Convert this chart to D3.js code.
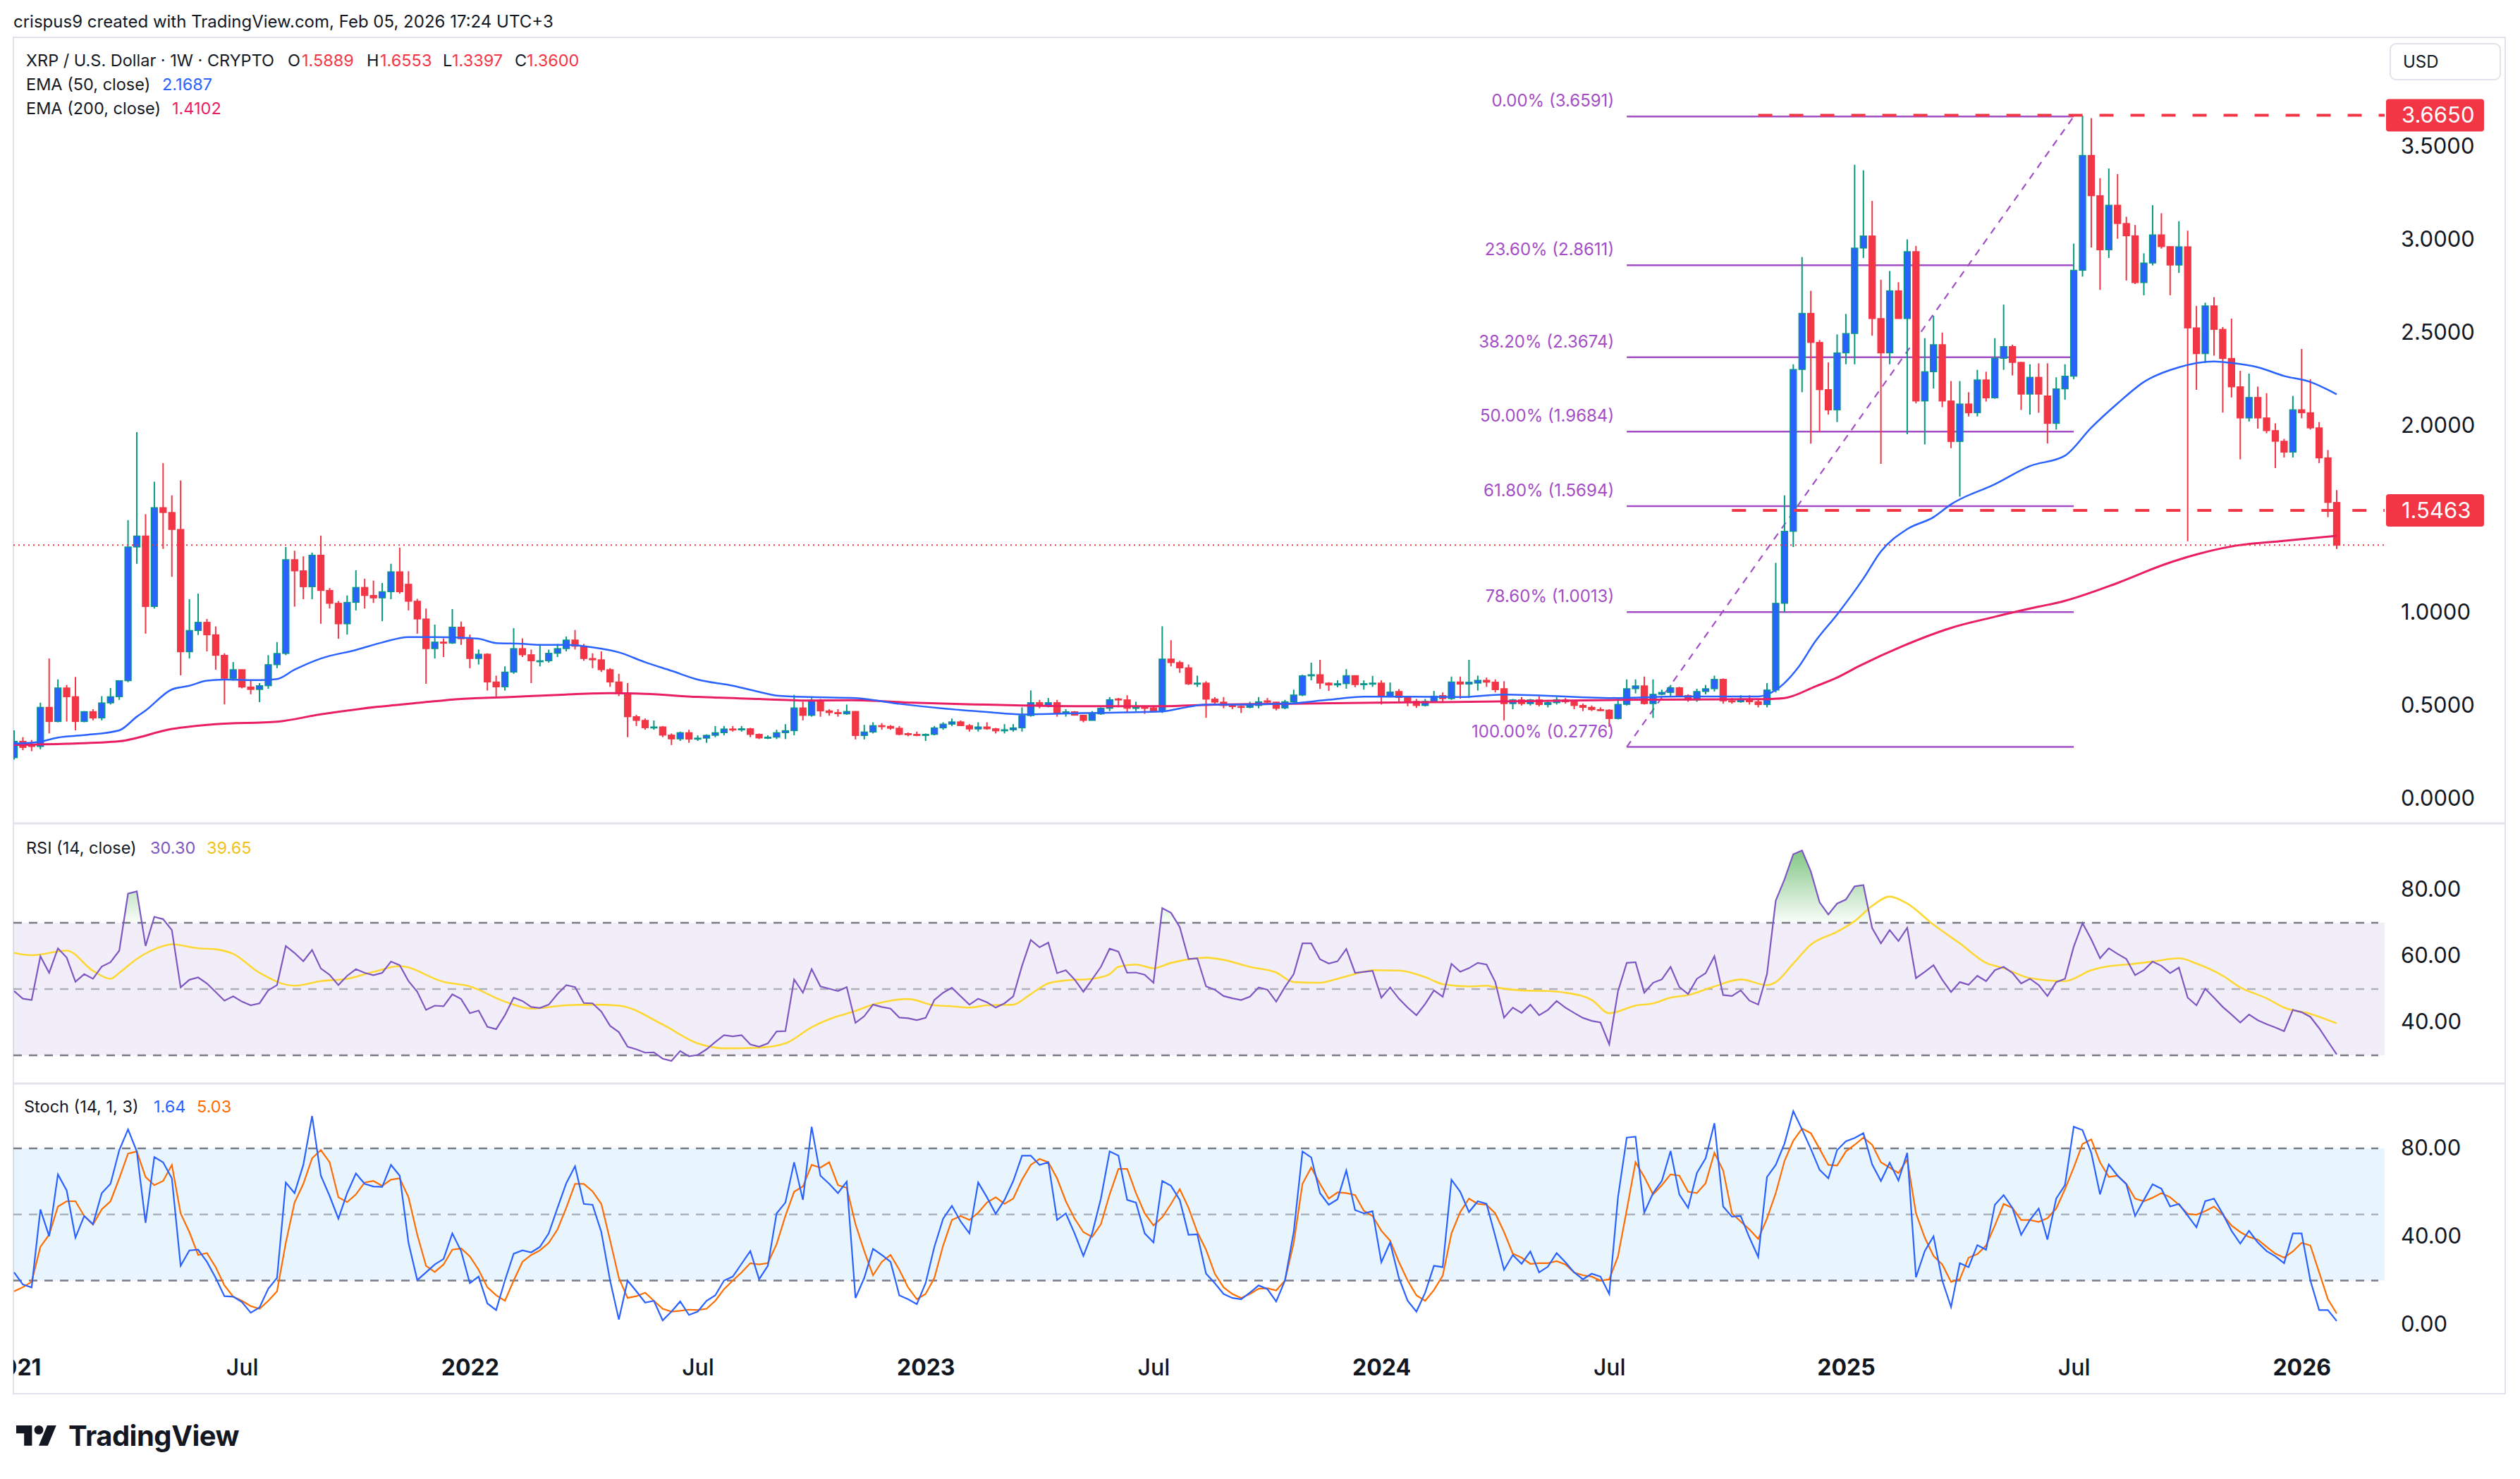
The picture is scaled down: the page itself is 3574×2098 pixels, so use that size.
<!DOCTYPE html>
<html><head><meta charset="utf-8">
<script src="https://cdn.jsdelivr.net/npm/d3@7/dist/d3.min.js"></script>
<style>html,body{margin:0;padding:0;background:#fff;}svg{display:block;}</style>
</head><body>
<svg id="c" width="3574" height="2098"></svg>
<script>
// ---------------- DATA (weekly bars, first bar = week of 2021-01-04) ----------------
const firstWeek = "2021-01-04";
const open = [0.220,0.308,0.290,0.280,0.490,0.414,0.594,0.547,0.414,0.467,
0.433,0.514,0.547,0.633,1.350,1.409,1.031,1.561,1.535,1.444,
0.788,0.902,0.946,0.879,0.769,0.646,0.692,0.599,0.586,0.606,
0.719,0.779,1.282,1.222,1.137,1.306,1.117,1.048,0.938,1.053,
1.133,1.090,1.077,1.110,1.217,1.150,1.059,0.964,0.805,0.840,
0.835,0.920,0.858,0.752,0.775,0.626,0.600,0.679,0.805,0.772,
0.740,0.740,0.780,0.805,0.851,0.818,0.752,0.745,0.692,0.626,
0.567,0.440,0.420,0.381,0.385,0.341,0.321,0.354,0.320,0.325,
0.340,0.354,0.374,0.372,0.375,0.345,0.326,0.330,0.354,0.365,
0.487,0.447,0.528,0.471,0.462,0.455,0.468,0.339,0.358,0.392,
0.388,0.378,0.349,0.345,0.342,0.345,0.380,0.400,0.412,0.392,
0.374,0.385,0.375,0.364,0.370,0.380,0.446,0.515,0.497,0.515,
0.459,0.466,0.448,0.420,0.455,0.485,0.535,0.530,0.485,0.490,
0.487,0.470,0.749,0.730,0.702,0.616,0.620,0.534,0.518,0.500,
0.495,0.490,0.500,0.525,0.518,0.487,0.520,0.556,0.659,0.665,
0.620,0.610,0.617,0.660,0.612,0.617,0.620,0.547,0.575,0.543,
0.522,0.500,0.520,0.553,0.537,0.626,0.615,0.620,0.635,0.625,
0.590,0.510,0.530,0.510,0.530,0.505,0.515,0.530,0.520,0.500,
0.490,0.478,0.475,0.430,0.506,0.590,0.605,0.510,0.560,0.570,
0.595,0.553,0.530,0.575,0.590,0.640,0.525,0.520,0.535,0.520,
0.505,0.583,1.048,1.434,2.302,2.603,2.447,2.194,2.085,2.391,
2.495,2.953,3.018,2.575,2.391,2.724,2.575,2.934,2.133,2.290,
2.435,2.133,1.916,2.117,2.070,2.246,2.150,2.362,2.425,2.340,
2.170,2.260,2.160,2.013,2.198,2.266,2.834,3.450,3.234,2.944,
3.183,3.085,3.019,2.768,2.873,3.024,2.961,2.862,2.960,2.525,
2.387,2.643,2.517,2.361,2.209,2.042,2.152,2.042,1.974,1.917,
1.859,2.086,2.070,1.989,1.828,1.5889];
const high = [0.367,0.330,0.315,0.515,0.752,0.640,0.610,0.653,0.470,0.480,
0.550,0.594,0.633,1.494,1.966,1.526,1.700,1.800,1.627,1.707,
1.070,1.100,0.964,0.924,0.780,0.733,0.692,0.639,0.620,0.770,
0.840,1.350,1.330,1.300,1.320,1.411,1.130,1.060,1.090,1.225,
1.180,1.170,1.157,1.260,1.346,1.220,1.072,1.020,0.934,0.860,
1.017,0.950,0.880,0.800,0.780,0.660,0.710,0.915,0.860,0.800,
0.820,0.800,0.830,0.870,0.905,0.830,0.780,0.790,0.700,0.670,
0.620,0.450,0.430,0.420,0.390,0.350,0.360,0.370,0.340,0.345,
0.390,0.390,0.390,0.390,0.380,0.350,0.340,0.370,0.400,0.557,
0.520,0.540,0.535,0.480,0.480,0.505,0.470,0.396,0.410,0.405,
0.395,0.390,0.355,0.360,0.350,0.390,0.410,0.430,0.420,0.400,
0.410,0.410,0.380,0.400,0.400,0.490,0.581,0.530,0.540,0.530,
0.480,0.470,0.450,0.470,0.490,0.545,0.541,0.555,0.520,0.500,
0.500,0.925,0.850,0.740,0.720,0.660,0.630,0.545,0.545,0.510,
0.500,0.520,0.545,0.540,0.520,0.530,0.585,0.665,0.730,0.745,
0.625,0.635,0.695,0.660,0.635,0.659,0.635,0.623,0.588,0.550,
0.535,0.535,0.578,0.570,0.655,0.655,0.745,0.660,0.650,0.640,
0.630,0.535,0.545,0.535,0.550,0.530,0.545,0.540,0.530,0.510,
0.500,0.490,0.480,0.530,0.640,0.640,0.655,0.640,0.585,0.610,
0.600,0.560,0.590,0.610,0.660,0.645,0.540,0.555,0.555,0.530,
0.620,1.265,1.627,2.330,2.905,2.724,2.460,2.340,2.490,2.600,
3.400,3.370,3.206,2.784,2.830,2.770,3.000,2.965,2.470,2.590,
2.500,2.240,2.240,2.180,2.300,2.290,2.470,2.650,2.435,2.343,
2.330,2.335,2.335,2.260,2.330,2.977,3.663,3.650,3.328,3.380,
3.350,3.121,3.077,2.925,3.183,3.140,2.961,3.097,3.046,2.643,
2.660,2.690,2.530,2.575,2.295,2.280,2.210,2.175,2.013,1.930,
2.160,2.412,2.250,2.020,1.870,1.6553];
const low = [0.210,0.260,0.255,0.265,0.350,0.410,0.414,0.367,0.410,0.420,
0.420,0.505,0.530,0.625,1.260,0.885,1.020,1.340,1.190,0.662,
0.752,0.878,0.790,0.692,0.506,0.633,0.592,0.560,0.518,0.590,
0.700,0.770,1.030,1.070,1.070,0.938,1.020,0.858,0.880,1.010,
1.020,1.050,0.952,1.070,1.100,1.010,0.885,0.616,0.752,0.760,
0.830,0.825,0.700,0.720,0.580,0.549,0.580,0.670,0.760,0.620,
0.710,0.730,0.760,0.790,0.800,0.740,0.700,0.680,0.600,0.550,
0.330,0.390,0.370,0.370,0.330,0.288,0.310,0.300,0.310,0.300,
0.330,0.340,0.360,0.360,0.330,0.320,0.320,0.320,0.320,0.340,
0.420,0.440,0.440,0.445,0.440,0.450,0.318,0.318,0.350,0.370,
0.370,0.340,0.335,0.335,0.310,0.340,0.370,0.390,0.390,0.360,
0.360,0.370,0.350,0.350,0.360,0.360,0.440,0.485,0.490,0.440,
0.440,0.450,0.410,0.420,0.450,0.470,0.490,0.465,0.470,0.455,
0.465,0.460,0.710,0.675,0.610,0.600,0.434,0.510,0.485,0.480,
0.460,0.485,0.485,0.510,0.474,0.480,0.515,0.550,0.635,0.589,
0.578,0.598,0.590,0.598,0.585,0.600,0.505,0.543,0.520,0.496,
0.487,0.495,0.515,0.520,0.530,0.537,0.540,0.580,0.600,0.570,
0.420,0.480,0.500,0.500,0.495,0.490,0.505,0.510,0.480,0.470,
0.470,0.470,0.385,0.425,0.500,0.565,0.505,0.433,0.555,0.550,
0.545,0.520,0.520,0.560,0.575,0.510,0.510,0.515,0.505,0.490,
0.490,0.570,1.000,1.350,2.180,1.904,1.967,2.060,2.020,2.330,
2.330,2.900,2.483,1.796,2.330,2.620,1.955,2.120,1.900,2.200,
2.100,1.880,1.620,2.050,2.050,2.130,2.145,2.300,2.270,2.085,
2.060,2.070,1.905,1.980,2.140,2.250,2.800,2.956,2.729,2.900,
3.003,2.779,2.760,2.700,2.860,2.950,2.700,2.820,1.381,2.193,
2.337,2.376,2.071,2.152,1.820,2.023,1.985,1.960,1.773,1.830,
1.830,2.040,1.980,1.800,1.510,1.3397];
const close = [0.308,0.275,0.280,0.490,0.414,0.594,0.547,0.414,0.467,0.433,
0.514,0.547,0.633,1.350,1.409,1.031,1.561,1.535,1.444,0.788,
0.902,0.946,0.879,0.769,0.646,0.692,0.599,0.586,0.606,0.719,
0.779,1.282,1.222,1.137,1.306,1.117,1.048,0.938,1.053,1.133,
1.090,1.077,1.110,1.217,1.110,1.059,0.964,0.805,0.840,0.835,
0.920,0.858,0.752,0.775,0.626,0.600,0.679,0.805,0.772,0.740,
0.740,0.780,0.805,0.851,0.818,0.752,0.745,0.692,0.626,0.567,
0.440,0.420,0.381,0.385,0.341,0.321,0.354,0.320,0.325,0.340,
0.354,0.374,0.372,0.375,0.345,0.326,0.330,0.354,0.365,0.487,
0.447,0.528,0.471,0.462,0.458,0.468,0.339,0.358,0.392,0.388,
0.378,0.345,0.345,0.342,0.345,0.380,0.400,0.412,0.392,0.374,
0.385,0.375,0.364,0.370,0.380,0.446,0.515,0.497,0.515,0.459,
0.466,0.448,0.420,0.455,0.485,0.531,0.530,0.485,0.490,0.487,
0.470,0.749,0.730,0.702,0.616,0.620,0.534,0.518,0.500,0.495,
0.493,0.500,0.520,0.518,0.485,0.520,0.556,0.659,0.665,0.620,
0.610,0.617,0.660,0.612,0.617,0.620,0.547,0.572,0.543,0.522,
0.500,0.522,0.550,0.537,0.626,0.615,0.625,0.635,0.625,0.585,
0.510,0.530,0.510,0.530,0.505,0.515,0.530,0.520,0.500,0.490,
0.478,0.475,0.430,0.506,0.590,0.605,0.510,0.560,0.570,0.595,
0.553,0.530,0.575,0.590,0.640,0.525,0.520,0.535,0.520,0.505,
0.583,1.048,1.434,2.302,2.603,2.447,2.194,2.085,2.391,2.495,
2.953,3.018,2.575,2.391,2.724,2.575,2.934,2.133,2.290,2.435,
2.133,1.916,2.117,2.070,2.246,2.150,2.362,2.425,2.340,2.170,
2.260,2.170,2.013,2.198,2.266,2.834,3.450,3.234,2.944,3.183,
3.085,3.019,2.768,2.873,3.024,2.961,2.862,2.960,2.525,2.387,
2.643,2.517,2.361,2.209,2.042,2.152,2.042,1.974,1.917,1.859,
2.086,2.070,1.989,1.828,1.589,1.3600];

const ema50Bar = [0,3,5,8,12,14,15,18,20,22,24,28,30,32,35,39,42,45,48,51,53,55,58,60,63,66,69,72,75,78,82,85,87,91,96,101,106,111,115,118,122,127,131,133,136,140,145,150,154,159,165,170,183,190,199,201,203.5,205.5,208,211,213,216,219,221,226,230,234,237,240,243,247,251,253,256,259,262,265];
const ema50 = [0.295,0.306,0.328,0.341,0.367,0.44,0.473,0.586,0.606,0.633,0.639,0.636,0.642,0.692,0.752,0.798,0.838,0.867,0.867,0.864,0.858,0.835,0.831,0.825,0.825,0.812,0.785,0.732,0.686,0.639,0.606,0.573,0.553,0.545,0.54,0.509,0.484,0.465,0.452,0.455,0.459,0.463,0.468,0.484,0.505,0.505,0.509,0.531,0.547,0.547,0.545,0.559,0.54,0.548,0.548,0.583,0.70,0.843,0.988,1.181,1.326,1.446,1.51,1.579,1.687,1.784,1.84,1.99,2.12,2.235,2.314,2.345,2.337,2.314,2.267,2.235,2.1687];
const ema200Bar = [0,6,12,18,23,30,35,41.5,46.5,51,57,63,68,72,78,85,91,95.5,102.5,109.5,115,123,131,137,146,155.5,163,183,199.5,202,205.5,208,210.5,215.5,221,226,231,233.5,240,245.5,249,253,258.5,265];
const ema200 = [0.289,0.295,0.308,0.374,0.40,0.413,0.453,0.493,0.516,0.535,0.546,0.559,0.566,0.562,0.546,0.535,0.526,0.528,0.515,0.506,0.50,0.496,0.496,0.505,0.509,0.515,0.518,0.53,0.534,0.54,0.602,0.65,0.711,0.819,0.916,0.976,1.03,1.055,1.157,1.259,1.31,1.353,1.381,1.4102];

// RSI (14) per bar and its moving average sampled
const rsi = [49.4,47.1,46.7,59.9,54.9,62.3,59.5,52.2,54.5,53.1,
56.8,58.1,61.6,78.8,79.5,63.0,71.8,71.1,67.8,50.5,
52.8,53.5,51.7,49.1,46.5,47.8,46.2,45.1,45.7,49.6,
51.2,63.0,60.9,58.4,61.8,56.2,54.3,51.2,54.0,56.0,
54.9,54.2,54.9,58.3,57.2,52.4,49.2,43.7,45.0,44.8,
48.4,47.0,42.7,43.5,38.6,37.9,42.1,47.4,46.4,44.6,
44.3,45.3,48.5,51.2,50.6,45.8,45.7,43.2,38.9,37.0,
32.6,31.8,30.8,30.9,29.0,28.3,31.3,29.7,30.1,31.8,
34.0,36.1,35.7,36.1,33.3,32.6,33.6,37.2,37.3,52.9,
48.9,56.0,50.8,50.1,49.4,50.6,39.8,41.8,45.3,44.6,
44.1,41.4,41.2,40.6,41.3,46.7,48.9,50.4,47.8,45.3,
47.1,46.0,44.4,45.7,47.8,57.0,64.8,62.6,64.0,54.8,
55.7,52.9,49.2,52.9,56.7,62.2,61.3,54.9,55.0,54.3,
51.9,74.4,73.0,68.7,59.1,59.3,50.8,49.8,47.9,47.2,
46.7,47.7,50.5,49.8,46.2,50.6,54.5,63.8,63.8,59.0,
57.7,58.4,62.1,54.9,55.2,55.5,47.4,50.5,47.1,44.4,
42.1,45.5,49.6,47.7,57.6,55.2,56.3,57.9,57.4,52.1,
41.4,44.4,42.8,45.3,42.1,43.7,46.4,44.4,42.8,41.3,
40.4,39.9,33.3,49.3,57.9,58.1,48.9,51.9,52.9,56.7,
50.6,48.5,53.1,54.8,59.9,48.2,47.9,49.6,46.5,45.3,
54.5,76.7,83.1,90.7,91.8,85.5,76.2,72.5,75.8,77.0,
81.0,81.4,68.4,63.8,67.8,64.5,68.5,53.3,55.2,57.2,
52.8,49.1,52.1,51.3,54.0,52.4,55.7,56.7,54.9,51.7,
53.1,51.2,47.9,52.1,53.1,62.8,69.9,65.0,59.3,62.3,
60.6,59.1,54.2,55.7,58.3,57.0,54.8,56.5,47.4,45.1,
50.1,47.4,44.6,42.3,39.9,42.3,40.6,39.4,38.4,37.3,
43.7,43.0,41.6,38.2,34.2,30.30];
const rsiMaBar = [0,2,6,9,11,12,14,16,18,21,23,25,28,32,35,38,41,44,49,52,56,59,63,66,69,74,78,81,85,88,91,93,96,98,100,102,105,107,109,111,114,116,118,120,123,125,126,128,130,132,135,136,138,141,144,146,149,151,154,155,158,161,163,166,168,169,172,175,177,180,182,185,187,189,191,194,197,200,201,203,205,208,210,212,214,216,219,222,225,227,230,234,237,239,241,244,247,249,252,254,257,259,262,265];
const rsiMa = [60.9,60.2,61.6,55.5,53.1,54.9,59.1,62.0,63.5,62.3,62.0,60.6,54.9,51.0,52.4,53.1,55.2,56.9,52.2,50.8,46.2,44.1,45.1,45.3,45.0,39.3,33.6,32.1,32.3,33.6,38.5,40.9,43.4,45.3,46.5,47.0,45.1,44.8,44.4,45.1,45.3,48.5,51.7,52.6,53.1,54.5,56.7,57.4,56.3,57.9,59.3,59.5,58.8,56.7,55.0,52.1,51.9,53.1,55.2,55.7,55.6,53.6,51.5,50.8,51.0,50.5,49.6,49.4,48.9,46.7,42.7,45.0,45.7,47.4,48.2,50.8,52.9,51.2,52.1,57.7,63.4,67.3,70.5,75.1,77.9,75.8,69.4,63.8,57.9,56.3,53.3,52.4,55.7,56.9,57.4,58.3,59.3,57.7,54.0,50.5,47.2,44.4,42.5,39.65];

// Stochastic (14,1,3) %K and %D per bar
const stochK = [23.7,18.2,16.9,52.3,40.1,68.2,60.9,39.5,49.3,45.6,
59.7,63.9,79.2,88.6,78.6,46.2,76.1,73.7,66.4,26.7,
33.7,34.0,28.5,21.2,12.9,12.7,10.2,5.4,7.8,16.3,
21.2,64.5,59.7,72.5,94.7,67.6,58.4,48.1,59.7,68.6,
63.9,62.7,62.5,72.5,67.6,37.1,20.2,23.7,27.3,29.8,
41.4,33.4,18.8,21.8,9.6,6.6,20.0,32.2,33.7,32.8,
35.3,41.4,53.0,64.2,71.9,54.8,54.4,42.0,20.0,2.3,
20.0,15.1,10.0,10.8,1.9,5.9,10.5,4.4,5.9,10.8,
13.3,20.0,21.8,27.6,33.4,20.6,26.7,50.5,55.4,73.7,
56.6,89.8,67.6,63.9,59.7,64.9,12.1,21.2,34.4,31.6,
28.5,13.3,11.5,9.3,18.8,35.3,48.1,53.9,46.8,41.4,
64.5,57.8,50.3,56.6,65.2,76.7,76.7,72.5,73.7,47.5,
50.5,41.4,31.2,41.4,57.2,78.6,76.7,56.6,55.4,41.4,
37.3,65.2,63.0,56.6,40.8,41.0,23.1,18.8,13.9,12.1,
11.5,14.5,17.8,16.1,10.5,20.0,42.0,78.6,75.9,59.7,
54.4,56.9,70.0,52.0,50.5,51.5,28.3,37.3,21.2,10.8,
5.9,14.5,26.7,26.1,65.8,60.3,51.1,56.0,54.8,40.1,
24.9,31.6,27.6,33.2,23.7,26.3,32.5,28.3,23.7,20.6,
23.1,21.8,13.9,57.8,84.9,85.3,50.8,59.7,65.2,78.8,
59.1,53.0,68.8,75.5,91.4,53.6,49.0,49.3,39.5,30.7,
67.0,72.5,82.2,96.9,88.6,79.8,70.3,66.4,79.2,83.2,
84.7,86.9,72.7,65.2,73.5,65.4,78.0,21.5,33.4,40.1,
20.0,8.0,27.9,26.1,36.1,34.0,54.4,58.8,53.0,40.8,
47.5,52.7,38.6,57.2,63.3,89.8,88.3,78.0,59.1,72.7,
67.6,63.7,49.3,56.6,63.7,61.7,53.6,54.8,49.5,44.2,
56.0,57.2,50.3,42.6,36.8,42.6,37.3,33.4,31.0,27.9,
41.4,41.4,20.0,6.6,6.6,1.64];
const stochD = [15.1,17.0,19.4,35.3,40.8,53.6,56.0,56.0,49.3,45.4,
52.3,56.0,66.4,77.6,78.6,67.0,63.3,65.2,72.5,50.5,
42.0,31.6,32.5,26.1,17.8,12.7,10.8,8.4,7.2,10.8,
15.1,37.1,55.4,63.9,75.5,79.2,73.7,57.8,55.6,59.1,
64.5,65.2,63.0,65.8,66.4,57.8,40.8,26.7,23.9,27.3,
34.0,34.6,31.0,24.9,16.9,13.3,10.8,20.0,28.5,31.6,
33.7,37.1,43.2,53.0,63.9,63.9,60.5,54.8,38.3,21.2,
12.1,12.9,14.5,10.8,7.2,5.9,6.3,6.8,6.6,7.2,
10.8,16.1,20.0,23.7,27.9,27.3,27.9,36.5,49.3,60.3,
62.7,72.5,71.3,73.7,63.3,62.1,45.6,33.4,22.4,28.5,
31.6,24.9,16.9,11.5,13.9,21.2,35.9,47.5,49.3,47.5,
50.8,55.4,57.8,54.8,57.2,65.8,72.5,75.2,73.7,66.4,
56.0,48.1,42.0,39.8,45.6,59.1,70.7,70.7,59.7,50.5,
45.0,48.7,54.8,61.5,53.0,42.0,34.0,23.1,16.9,13.9,
12.1,13.9,16.3,16.5,15.5,20.0,37.1,63.9,71.3,63.9,
57.2,60.0,59.7,58.8,51.7,49.3,42.6,38.1,28.5,20.0,
13.3,10.8,15.7,22.2,41.4,51.1,57.2,54.8,54.4,50.5,
42.0,32.2,30.4,27.6,27.9,27.9,28.8,27.3,23.7,22.4,
21.8,20.0,20.5,31.0,52.0,73.7,67.0,59.1,63.3,68.2,
67.6,60.3,59.7,64.2,78.0,70.0,50.5,46.8,43.2,38.9,
48.1,59.7,74.3,83.5,89.0,86.9,79.8,72.5,72.2,78.6,
81.6,84.9,81.6,73.7,71.3,68.8,75.0,50.5,39.5,31.2,
27.3,19.4,20.6,30.4,32.0,35.9,45.0,54.8,53.0,47.5,
47.5,46.6,48.3,52.7,61.5,71.3,82.0,84.1,73.7,67.0,
67.6,63.9,57.2,56.0,57.6,59.7,57.8,54.4,50.3,49.9,
51.5,53.6,49.9,45.0,42.0,39.8,38.6,35.3,32.2,30.4,
33.2,37.1,35.9,23.7,11.5,5.03];

// axes / annotations (1.5000 tick sits hidden behind the 1.5463 price label)
const priceTicks = [0,0.5,1,2,2.5,3,3.5];
const rsiTicks = [40,60,80];
const stochTicks = [0,40,80];
const timeTickDates = ["2021-01-04","2021-07-05","2022-01-03","2022-07-04","2023-01-02","2023-07-03","2024-01-01","2024-07-01","2025-01-06","2025-07-07","2026-01-05"];
const timeTickLabels = ["2021","Jul","2022","Jul","2023","Jul","2024","Jul","2025","Jul","2026"];
const fibLevels = ["0.00%","23.60%","38.20%","50.00%","61.80%","78.60%","100.00%"];
const fibPrices = [3.6591,2.8611,2.3674,1.9684,1.5694,1.0013,0.2776];
const fibFrom = "2024-07-15", fibTo = "2025-07-07";
const hLinePrices = [3.6650, 1.5463];
const hLineFrom = ["2024-10-28","2024-10-07"];
const lastClose = 1.36;

// ---------------- RENDER ----------------
const FONT = "Inter, 'Noto Sans', 'DejaVu Sans', sans-serif";
const INK = "#131722";
const W = 3574, H = 2098;
const L = 19, R = 3382, FR = 3553;
const svg = d3.select("#c");
const defs = svg.append("defs");
const WEEK = 7*864e5;
const t0 = Date.parse(firstWeek + "T00:00:00Z");
const barDate = b => new Date(t0 + b*WEEK);
const pd = s => new Date(Date.parse(s + "T00:00:00Z"));
const N = close.length;

const x = d3.scaleUtc().domain([barDate(0), barDate(N-1)]).range([20, 3314]);
const y = d3.scaleLinear().domain([0, 3.5]).range([1133, 207.25]);
const yR = d3.scaleLinear().domain([30, 70]).range([1497, 1309]);
const yS = d3.scaleLinear().domain([0, 80]).range([1879, 1629]);
const bx = b => x(barDate(b));

function clip(id, x0, y0, w, h){ defs.append("clipPath").attr("id", id).append("rect").attr("x",x0).attr("y",y0).attr("width",w).attr("height",h); }
clip("cMain", L, 55, R-L, 1166-55);
clip("cRsi", L, 1170, R-L, 1535-1170);
clip("cOB", L, 1170, R-L, yR(70)-1170);
clip("cOS", L, yR(30), R-L, 1535-yR(30));
clip("cSto", L, 1539, R-L, 1925-1539);
clip("cX", L, 1900, FR-L, 75);

svg.append("rect").attr("width",W).attr("height",H).attr("fill","#ffffff");

// title
svg.append("text").attr("x",19).attr("y",39).attr("font-family",FONT).attr("font-size",24).attr("fill",INK)
  .text("crispus9 created with TradingView.com, Feb 05, 2026 17:24 UTC+3");

// frame + separators
svg.append("rect").attr("x",L).attr("y",53).attr("width",FR-L).attr("height",1977-53)
  .attr("fill","none").attr("stroke","#E0E3EB").attr("stroke-width",2);
[1168,1537].forEach(v=>svg.append("line").attr("x1",L).attr("x2",FR).attr("y1",v).attr("y2",v).attr("stroke","#E0E3EB").attr("stroke-width",3));

// ---------- main pane ----------
const main = svg.append("g").attr("clip-path","url(#cMain)");

// fib levels
const fibX0 = x(pd(fibFrom)), fibX1 = x(pd(fibTo));
const FIB = "#A34DC6";
main.selectAll(".fib").data(fibPrices).join("line")
  .attr("x1",fibX0).attr("x2",fibX1).attr("y1",d=>y(d)).attr("y2",d=>y(d))
  .attr("stroke",FIB).attr("stroke-width",2.5);
main.append("line").attr("x1",fibX0).attr("y1",y(fibPrices[6])).attr("x2",fibX1).attr("y2",y(fibPrices[0]))
  .attr("stroke",FIB).attr("stroke-width",2.2).attr("stroke-dasharray","10 9");

// candles
const bars = d3.range(N);
const cw = 9;
const cg = main.append("g");
cg.selectAll(".wick").data(bars).join("line")
  .attr("x1",b=>bx(b)).attr("x2",b=>bx(b)).attr("y1",b=>y(high[b])).attr("y2",b=>y(low[b]))
  .attr("stroke",b=>close[b]>=open[b]?"#089981":"#F23645").attr("stroke-width",2);
cg.selectAll(".body").data(bars).join("rect")
  .attr("x",b=>bx(b)-cw/2).attr("width",cw)
  .attr("y",b=>y(Math.max(open[b],close[b])))
  .attr("height",b=>Math.max(1.5, Math.abs(y(open[b])-y(close[b]))))
  .attr("fill",b=>close[b]>=open[b]?"#2962FF":"#F23645")
  .attr("stroke",b=>close[b]>=open[b]?"#089981":"#F23645").attr("stroke-width",1.3);

// EMAs
const emaLine = (bs, vs) => d3.line().x((d,i)=>bx(bs[i])).y((d,i)=>y(vs[i])).curve(d3.curveMonotoneX)(vs);
main.append("path").attr("d",emaLine(ema200Bar, ema200)).attr("fill","none").attr("stroke","#E91E63").attr("stroke-width",3);
main.append("path").attr("d",emaLine(ema50Bar, ema50)).attr("fill","none").attr("stroke","#2962FF").attr("stroke-width",2.5);

// last price dotted line
main.append("line").attr("x1",L).attr("x2",R).attr("y1",y(lastClose)).attr("y2",y(lastClose))
  .attr("stroke","#F23645").attr("stroke-width",2).attr("stroke-dasharray","2 5");
// red dashed horizontal lines
hLinePrices.forEach((p,k)=>main.append("line").attr("x1",x(pd(hLineFrom[k]))).attr("x2",R).attr("y1",y(p)).attr("y2",y(p))
  .attr("stroke","#F23645").attr("stroke-width",4).attr("stroke-dasharray","20 24"));

// fib labels
svg.selectAll(".fibt").data(fibPrices).join("text")
  .attr("x",fibX0-18).attr("y",d=>y(d)-14).attr("text-anchor","end")
  .attr("font-family",FONT).attr("font-size",24).attr("fill",FIB)
  .text((d,i)=>`${fibLevels[i]} (${d.toFixed(4)})`);

// legend
const lg = svg.append("g").attr("font-family",FONT).attr("font-size",23.5).attr("fill",INK);
lg.append("text").attr("x",37).attr("y",94).text("XRP / U.S. Dollar · 1W · CRYPTO");
const ohlcLab = ["O","H","L","C"], ohlcVal=[open[N-1],high[N-1],low[N-1],close[N-1]];
const ohlcX = [408,520,628,730], ohlcVX=[428,539,641,747];
ohlcLab.forEach((t,k)=>{
  lg.append("text").attr("x",ohlcX[k]).attr("y",94).text(t);
  lg.append("text").attr("x",ohlcVX[k]).attr("y",94).attr("fill","#F23645").text(ohlcVal[k].toFixed(4));
});
lg.append("text").attr("x",37).attr("y",128).text("EMA (50, close)");
lg.append("text").attr("x",230).attr("y",128).attr("fill","#2962FF").text(ema50[ema50.length-1].toFixed(4));
lg.append("text").attr("x",37).attr("y",162).text("EMA (200, close)");
lg.append("text").attr("x",244).attr("y",162).attr("fill","#E91E63").text(ema200[ema200.length-1].toFixed(4));

// price axis
const AX = 31;
const pa = svg.append("g").attr("transform","translate(3405,0)")
  .call(d3.axisRight(y).tickValues(priceTicks).tickFormat(d3.format(".4f")).tickSize(0).tickPadding(0));
pa.select(".domain").remove();
pa.selectAll("text").attr("font-family",FONT).attr("font-size",AX).attr("fill",INK);

// USD box
svg.append("rect").attr("x",3390).attr("y",62).attr("width",156).attr("height",51).attr("rx",8)
  .attr("fill","#fff").attr("stroke","#E0E3EB").attr("stroke-width",2);
svg.append("text").attr("x",3408).attr("y",96).attr("font-family",FONT).attr("font-size",24).attr("fill",INK).text("USD");

// price labels for the horizontal lines
hLinePrices.forEach(p=>{
  svg.append("rect").attr("x",3384).attr("y",y(p)-23).attr("width",139).attr("height",46).attr("rx",4).attr("fill","#F23645");
  svg.append("text").attr("x",3406).attr("y",y(p)).attr("dy","0.35em").attr("font-family",FONT).attr("font-size",AX)
    .attr("fill","#fff").text(p.toFixed(4));
});

// ---------- RSI pane ----------
const rg = svg.append("g").attr("clip-path","url(#cRsi)");
rg.append("rect").attr("x",L).attr("width",R-L).attr("y",yR(70)).attr("height",yR(30)-yR(70)).attr("fill","#7E57C2").attr("fill-opacity",0.1);
[[70,"#787B86",1],[50,"#787B86",0.55],[30,"#787B86",1]].forEach(([v,c,o])=>rg.append("line")
  .attr("x1",L).attr("x2",3373).attr("y1",yR(v)).attr("y2",yR(v)).attr("stroke",c).attr("stroke-opacity",o)
  .attr("stroke-width",2.5).attr("stroke-dasharray","12 10"));
const gOB = defs.append("linearGradient").attr("id","gOB").attr("gradientUnits","userSpaceOnUse").attr("x1",0).attr("x2",0).attr("y1",yR(95)).attr("y2",yR(70));
gOB.append("stop").attr("offset",0).attr("stop-color","#4CAF50").attr("stop-opacity",0.8);
gOB.append("stop").attr("offset",1).attr("stop-color","#4CAF50").attr("stop-opacity",0.03);
const gOS = defs.append("linearGradient").attr("id","gOS").attr("gradientUnits","userSpaceOnUse").attr("x1",0).attr("x2",0).attr("y1",yR(30)).attr("y2",yR(5));
gOS.append("stop").attr("offset",0).attr("stop-color","#F23645").attr("stop-opacity",0.03);
gOS.append("stop").attr("offset",1).attr("stop-color","#F23645").attr("stop-opacity",0.8);
rg.append("path").attr("clip-path","url(#cOB)").attr("fill","url(#gOB)")
  .attr("d",d3.area().x(b=>bx(b)).y0(yR(70)).y1(b=>yR(rsi[b]))(bars));
rg.append("path").attr("clip-path","url(#cOS)").attr("fill","url(#gOS)")
  .attr("d",d3.area().x(b=>bx(b)).y0(yR(30)).y1(b=>yR(rsi[b]))(bars));
rg.append("path").attr("d",d3.line().x((d,i)=>bx(rsiMaBar[i])).y(d=>yR(d)).curve(d3.curveMonotoneX)(rsiMa))
  .attr("fill","none").attr("stroke","#FDD835").attr("stroke-width",2.6);
rg.append("path").attr("d",d3.line().x(b=>bx(b)).y(b=>yR(rsi[b]))(bars))
  .attr("fill","none").attr("stroke","#7E57C2").attr("stroke-width",2.2);
const ra = svg.append("g").attr("transform","translate(3405,0)")
  .call(d3.axisRight(yR).tickValues(rsiTicks).tickFormat(d3.format(".2f")).tickSize(0).tickPadding(0));
ra.select(".domain").remove();
ra.selectAll("text").attr("font-family",FONT).attr("font-size",AX).attr("fill",INK);
const rl = svg.append("g").attr("font-family",FONT).attr("font-size",23.5);
rl.append("text").attr("x",37).attr("y",1211).attr("fill",INK).text("RSI (14, close)");
rl.append("text").attr("x",213).attr("y",1211).attr("fill","#7E57C2").text(rsi[N-1].toFixed(2));
rl.append("text").attr("x",293).attr("y",1211).attr("fill","#F2C21B").text(rsiMa[rsiMa.length-1].toFixed(2));

// ---------- Stoch pane ----------
const sg = svg.append("g").attr("clip-path","url(#cSto)");
sg.append("rect").attr("x",L).attr("width",R-L).attr("y",yS(80)).attr("height",yS(20)-yS(80)).attr("fill","#2196F3").attr("fill-opacity",0.1);
[[80,1],[50,0.55],[20,1]].forEach(([v,o])=>sg.append("line")
  .attr("x1",L).attr("x2",3373).attr("y1",yS(v)).attr("y2",yS(v)).attr("stroke","#787B86").attr("stroke-opacity",o)
  .attr("stroke-width",2.5).attr("stroke-dasharray","12 10"));
sg.append("path").attr("d",d3.line().x(b=>bx(b)).y(b=>yS(stochD[b]))(bars))
  .attr("fill","none").attr("stroke","#FF6D00").attr("stroke-width",2.2);
sg.append("path").attr("d",d3.line().x(b=>bx(b)).y(b=>yS(stochK[b]))(bars))
  .attr("fill","none").attr("stroke","#2962FF").attr("stroke-width",2.2);
const sa = svg.append("g").attr("transform","translate(3405,0)")
  .call(d3.axisRight(yS).tickValues(stochTicks).tickFormat(d3.format(".2f")).tickSize(0).tickPadding(0));
sa.select(".domain").remove();
sa.selectAll("text").attr("font-family",FONT).attr("font-size",AX).attr("fill",INK);
const sl = svg.append("g").attr("font-family",FONT).attr("font-size",23.5);
sl.append("text").attr("x",34).attr("y",1578).attr("fill",INK).text("Stoch (14, 1, 3)");
sl.append("text").attr("x",218).attr("y",1578).attr("fill","#2962FF").text(stochK[N-1].toFixed(2));
sl.append("text").attr("x",279).attr("y",1578).attr("fill","#FF6D00").text(stochD[N-1].toFixed(2));

// ---------- time axis ----------
const xa = svg.append("g").attr("clip-path","url(#cX)").append("g").attr("transform","translate(0,1928)")
  .call(d3.axisBottom(x).tickValues(timeTickDates.map(pd)).tickFormat((d,i)=>timeTickLabels[i]).tickSize(0).tickPadding(0));
xa.select(".domain").remove();
xa.selectAll("text").attr("font-family",FONT).attr("font-size",32).attr("fill",INK)
  .attr("font-weight",(d,i)=>timeTickLabels[i]==="Jul"?500:700);

// ---------- TradingView logo ----------
const logo = svg.append("g").attr("transform","translate(23,2015.6) scale(1.6)").attr("fill",INK);
logo.append("path").attr("d","M14 22H7V11H0V4h14v18zM28 22h-8l7.5-18h8L28 22z");
logo.append("circle").attr("cx",20).attr("cy",8).attr("r",4);
svg.append("text").attr("x",97).attr("y",2051).attr("font-family",FONT).attr("font-size",40).attr("font-weight",700)
  .attr("fill",INK).attr("letter-spacing","-0.5").text("TradingView");
</script>
</body></html>
